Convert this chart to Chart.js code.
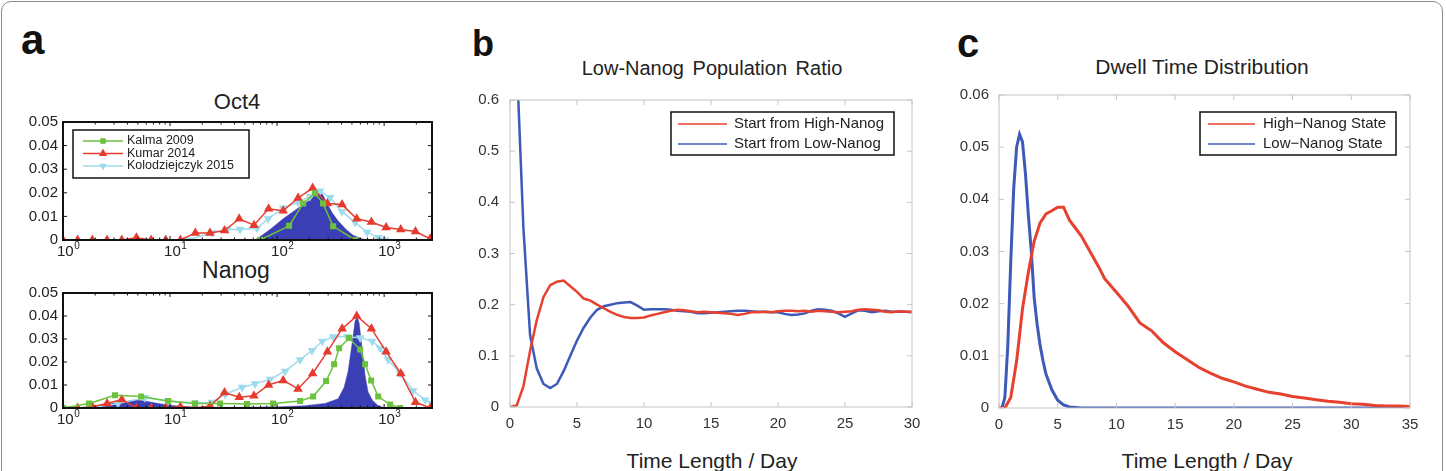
<!DOCTYPE html>
<html>
<head>
<meta charset="utf-8">
<script src="https://cdn.jsdelivr.net/npm/chart.js@4.4.1/dist/chart.umd.min.js"></script>
<style>
  body { margin: 0; background: #fff; width: 1446px; height: 471px; overflow: hidden; position: relative;
         font-family: "Liberation Sans", Arial, sans-serif; color: #222; }
  .frame { position: absolute; left: 1px; top: 1px; width: 1440px; height: 520px; border: 1.5px solid #8a8a8a; border-radius: 10px; }
  .letter { position: absolute; font-weight: bold; line-height: 1; color: #111; }
  .ttl { position: absolute; line-height: 1; white-space: nowrap; transform: translate(-50%, -50%); }
  canvas { position: absolute; }
</style>
</head>
<body>
<div class="frame"></div>
<div class="letter" style="left:21px;top:19px;font-size:42px">a</div>
<div class="letter" style="left:472px;top:26px;font-size:36px">b</div>
<div class="letter" style="left:957px;top:23px;font-size:40px">c</div>

<div class="ttl" style="left:237px;top:102px;font-size:22px">Oct4</div>
<div class="ttl" style="left:236px;top:270px;font-size:23px">Nanog</div>
<div class="ttl" style="left:712px;top:68px;font-size:20px;word-spacing:3px">Low-Nanog Population Ratio</div>
<div class="ttl" style="left:1202px;top:66px;font-size:21px">Dwell Time Distribution</div>
<div class="ttl" style="left:712px;top:460px;font-size:21px">Time Length / Day</div>
<div class="ttl" style="left:1207px;top:460px;font-size:21px">Time Length / Day</div>

<canvas id="oct4" width="460" height="152" style="left:0;top:108px"></canvas>
<canvas id="nanog" width="460" height="161" style="left:0;top:279px"></canvas>
<canvas id="ratio" width="470" height="370" style="left:465px;top:80px"></canvas>
<canvas id="dwell" width="480" height="370" style="left:950px;top:76px"></canvas>

<script>
// ---- panel a: expression distributions (log x) ----
const kumarBins = [1, 1.37, 1.88, 2.58, 3.54, 4.85, 6.66, 9.13, 12.5, 17.2, 23.6, 32.3, 44.3, 60.8, 83.3,
  114, 157, 215, 295, 405, 555, 761, 1043, 1431, 1963, 2692];
const oct4Kumar = [0, 0, 0, 0, 0, 0.001, 0, 0, 0, 0.003, 0.003, 0.004, 0.009, 0.0063, 0.0132, 0.0124,
  0.0178, 0.022, 0.0155, 0.015, 0.009, 0.0076, 0.0053, 0.0044, 0.0036, 0.0005];
const nanogKumar = [0, 0, 0.0005, 0.002, 0.0037, 0, 0, 0, 0.0005, 0, 0.0009, 0.0067, 0.0047, 0.0053,
  0.01, 0.012, 0.0083, 0.015, 0.0245, 0.0345, 0.04, 0.0345, 0.0245, 0.015, 0.0025, 0];

const oct4KalmaX = [69.3, 129.5, 175, 226, 269, 334, 536];
const oct4Kalma = [0, 0.006, 0.0155, 0.0198, 0.0155, 0.0058, 0];
const nanogKalmaX = [1, 1.75, 3.06, 5.36, 9.58, 17.1, 29.3, 52.4, 91.8, 164, 217, 287, 341, 380, 471,
  597, 664, 756, 880, 1138, 1413];
const nanogKalma = [0, 0.002, 0.0055, 0.005, 0.003, 0.002, 0.002, 0.0017, 0.002, 0.003, 0.005, 0.0117,
  0.019, 0.026, 0.0304, 0.0254, 0.019, 0.012, 0.005, 0.0015, 0];

const oct4KoloX = [14.4, 24.7, 34.1, 45.1, 65.0, 82.4, 114, 157, 203, 252, 313, 405, 536, 693, 880, 1021];
const oct4Kolo = [0, 0.003, 0.0045, 0.0045, 0.005, 0.009, 0.0135, 0.016, 0.0185, 0.0207, 0.018, 0.012,
  0.0075, 0.0033, 0.001, 0];
const nanogKoloX = [1, 1.79, 3.27, 5.84, 9.58, 17.1, 24.7, 32.7, 47.1, 62.3, 86.0, 119, 164, 212, 264,
  334, 451, 597, 773, 918, 1090, 1413, 1866, 2416, 2780];
const nanogKolo = [0, 0, 0.002, 0.0045, 0.003, 0.0022, 0.0025, 0.006, 0.009, 0.0105, 0.0125, 0.016,
  0.021, 0.025, 0.029, 0.031, 0.031, 0.0305, 0.029, 0.026, 0.021, 0.015, 0.0075, 0.0035, 0.002];

const oct4SimX = [62.3, 72.4, 86.0, 114, 157, 203, 231, 247, 269, 293, 327, 372, 441, 513, 622, 708];
const oct4Sim = [0, 0.002, 0.0045, 0.009, 0.0135, 0.017, 0.0195, 0.0205, 0.019, 0.0155, 0.0115, 0.008,
  0.0045, 0.002, 0.0005, 0];
const nanogSimX = [1.61, 1.99, 2.75, 3.80, 4.71, 5.84, 8.07, 11.1, 15.4, 23.7, 45.1, 107, 183, 281, 372,
  423, 461, 502, 536, 560, 584, 622, 664, 708, 773, 880, 1021];
const nanogSim = [0, 0.0008, 0.0018, 0.0028, 0.0035, 0.003, 0.0018, 0.001, 0.0005, 0.0003, 0.0003,
  0.0005, 0.001, 0.002, 0.004, 0.009, 0.016, 0.028, 0.038, 0.0395, 0.037, 0.026, 0.014, 0.007, 0.0035,
  0.001, 0];

const logTicks = [1, 10, 100, 1000];

// ---- panel b: low-Nanog population ratio ----
const tRatio = [0, 0.5, 1, 1.5, 2, 2.5, 3, 3.5, 4, 4.5, 5, 5.5, 6, 6.5, 7, 7.5, 8, 8.5, 9, 9.5, 10, 10.5,
  11, 11.5, 12, 12.5, 13, 13.5, 14, 14.5, 15, 15.5, 16, 16.5, 17, 17.5, 18, 18.5, 19, 19.5, 20, 20.5, 21,
  21.5, 22, 22.5, 23, 23.5, 24, 24.5, 25, 25.5, 26, 26.5, 27, 27.5, 28, 28.5, 29, 29.5, 30];
const fromHigh = [0, 0.003, 0.04, 0.11, 0.17, 0.215, 0.238, 0.245, 0.247, 0.236, 0.225, 0.212, 0.208,
  0.2, 0.193, 0.186, 0.18, 0.176, 0.174, 0.174, 0.175, 0.179, 0.182, 0.185, 0.188, 0.19, 0.189, 0.187,
  0.185, 0.186, 0.185, 0.184, 0.183, 0.182, 0.18, 0.182, 0.185, 0.185, 0.186, 0.185, 0.187, 0.188, 0.188,
  0.187, 0.188, 0.186, 0.188, 0.187, 0.186, 0.185, 0.186, 0.187, 0.19, 0.191, 0.19, 0.189, 0.186, 0.185,
  0.187, 0.186, 0.186];
const fromLow = [1.0, 0.68, 0.35, 0.14, 0.075, 0.045, 0.037, 0.045, 0.07, 0.1, 0.13, 0.155, 0.175, 0.19,
  0.197, 0.2, 0.203, 0.204, 0.205, 0.198, 0.19, 0.191, 0.191, 0.191, 0.19, 0.188, 0.187, 0.186, 0.183,
  0.183, 0.184, 0.185, 0.186, 0.187, 0.188, 0.188, 0.187, 0.186, 0.186, 0.185, 0.185, 0.182, 0.18, 0.181,
  0.183, 0.188, 0.191, 0.19, 0.188, 0.183, 0.176, 0.183, 0.189, 0.188, 0.185, 0.187, 0.188, 0.186, 0.186,
  0.186, 0.185];

// ---- panel c: dwell time distribution ----
const tHighState = [0, 0.5, 1, 1.5, 2, 2.5, 3, 3.5, 4, 4.5, 5, 5.5, 6, 6.5, 7, 7.5, 8, 8.5, 9, 9.5, 10,
  11, 12, 13, 14, 15, 16, 17, 18, 19, 20, 21, 22, 23, 24, 25, 26, 27, 28, 29, 30, 31, 32, 33, 34, 35];
const highState = [0, 0, 0.002, 0.009, 0.019, 0.026, 0.032, 0.0355, 0.0372, 0.0378, 0.0385, 0.0385,
  0.036, 0.0345, 0.033, 0.031, 0.029, 0.027, 0.0248, 0.0235, 0.0222, 0.0195, 0.0163, 0.0148, 0.0125,
  0.0108, 0.0093, 0.0078, 0.0067, 0.0057, 0.005, 0.0042, 0.0036, 0.003, 0.0027, 0.0022, 0.0019, 0.0016,
  0.0013, 0.0011, 0.0008, 0.0007, 0.0005, 0.0004, 0.0004, 0.0003];
const tLowState = [0, 0.25, 0.5, 0.75, 1, 1.25, 1.5, 1.75, 2, 2.25, 2.5, 2.75, 3, 3.25, 3.5, 3.75, 4, 4.5,
  5, 5.5, 6, 7, 10, 15, 20, 25, 30, 35];
const lowState = [0, 0, 0.002, 0.012, 0.028, 0.042, 0.05, 0.0525, 0.051, 0.045, 0.037, 0.03, 0.021,
  0.016, 0.012, 0.009, 0.0065, 0.0035, 0.0015, 0.0006, 0.0002, 0, 0, 0, 0, 0, 0, 0];

const pairs = (xs, ys) => xs.map((x, i) => ({ x: x, y: ys[i] }));
const FONT = '"Liberation Sans", Arial, sans-serif';

// MATLAB style box with inward ticks
const matlabAxes = {
  id: 'matlabAxes',
  afterDatasetsDraw(chart, args, o) {
    const { ctx, chartArea: a } = chart;
    const xs = chart.scales.x, ys = chart.scales.y;
    ctx.save();
    ctx.strokeStyle = o.color;
    ctx.lineWidth = o.tickWidth;
    ctx.beginPath();
    xs.ticks.forEach(t => {
      const p = xs.getPixelForValue(t.value);
      ctx.moveTo(p, a.bottom); ctx.lineTo(p, a.bottom - o.tickLen);
      ctx.moveTo(p, a.top); ctx.lineTo(p, a.top + o.tickLen);
    });
    ys.ticks.forEach(t => {
      const p = ys.getPixelForValue(t.value);
      ctx.moveTo(a.left, p); ctx.lineTo(a.left + o.tickLen, p);
      ctx.moveTo(a.right, p); ctx.lineTo(a.right - o.tickLen, p);
    });
    if (o.minor) {
      logTicks.forEach(d => {
        for (let m = 2; m <= 9; m++) {
          const v = d * m;
          if (v > xs.max) break;
          const p = xs.getPixelForValue(v);
          ctx.moveTo(p, a.bottom); ctx.lineTo(p, a.bottom - o.minorLen);
          ctx.moveTo(p, a.top); ctx.lineTo(p, a.top + o.minorLen);
        }
      });
    }
    ctx.stroke();
    ctx.lineWidth = o.boxWidth;
    ctx.strokeRect(a.left, a.top, a.width, a.height);
    ctx.restore();
  }
};

// legend drawn inside the axes, with a black box
const boxLegend = {
  id: 'boxLegend',
  afterDraw(chart, args, o) {
    if (!o.rows) return;
    const { ctx, chartArea: a } = chart;
    const bx = o.right != null ? a.right - o.right - o.w : a.left + o.left;
    const by = a.top + o.top;
    ctx.save();
    ctx.fillStyle = '#fff';
    ctx.fillRect(bx, by, o.w, o.h);
    ctx.strokeStyle = '#111';
    ctx.lineWidth = 1.5;
    ctx.strokeRect(bx, by, o.w, o.h);
    ctx.font = o.font;
    ctx.textBaseline = 'middle';
    ctx.textAlign = 'left';
    o.rows.forEach(row => {
      const ds = chart.data.datasets[row.ds];
      const y = by + row.y;
      ctx.strokeStyle = ds.borderColor;
      ctx.lineWidth = o.lineWidth || ds.borderWidth;
      ctx.beginPath(); ctx.moveTo(bx + o.x0, y); ctx.lineTo(bx + o.x1, y); ctx.stroke();
      if (ds.pointRadius) {
        ctx.fillStyle = ds.pointBackgroundColor;
        ctx.lineWidth = 1;
        Chart.helpers.drawPoint(ctx, { pointStyle: ds.pointStyle, radius: ds.pointRadius,
          rotation: ds.pointRotation || 0, borderWidth: 1 }, bx + (o.x0 + o.x1) / 2, y);
      }
      ctx.fillStyle = '#222';
      ctx.fillText(ds.label, bx + o.tx, y);
    });
    ctx.restore();
  }
};

// 10^n labels under the log axes
const logLabels = {
  id: 'logLabels',
  afterDraw(chart) {
    const { ctx, chartArea: a } = chart;
    const xs = chart.scales.x;
    ctx.save();
    ctx.fillStyle = '#222';
    ctx.textBaseline = 'middle';
    ctx.textAlign = 'left';
    logTicks.forEach(v => {
      const p = xs.getPixelForValue(v);
      ctx.font = '15px ' + FONT;
      const w = ctx.measureText('10').width;
      ctx.fillText('10', p - 6, a.bottom + 12);
      ctx.font = '10px ' + FONT;
      ctx.fillText(String(Math.round(Math.log10(v))), p - 6 + w + 0.5, a.bottom + 6);
    });
    ctx.restore();
  }
};

function distChart(id, xHeight, sets) {
  const [sim, kalma, kumar, kolo] = sets;
  return new Chart(document.getElementById(id), {
    type: 'line',
    data: {
      datasets: [
        { label: 'Simulation', data: sim, order: 10, fill: 'origin', backgroundColor: '#3b3fb5',
          borderColor: '#3b3fb5', borderWidth: 0.5, pointRadius: 0 },
        { label: 'Kalma 2009', data: kalma, borderColor: '#6cc23d', borderWidth: 1.5,
          pointStyle: 'rect', pointRadius: 3.2, pointBackgroundColor: '#6cc23d', pointBorderColor: '#6cc23d' },
        { label: 'Kumar 2014', data: kumar, borderColor: '#e63b2e', borderWidth: 1.5,
          pointStyle: 'triangle', pointRadius: 4, pointBackgroundColor: '#e63b2e', pointBorderColor: '#e63b2e' },
        { label: 'Kolodziejczyk 2015', data: kolo, borderColor: '#9edbec', borderWidth: 1.5,
          pointStyle: 'triangle', pointRotation: 180, pointRadius: 3.6,
          pointBackgroundColor: '#9edbec', pointBorderColor: '#9edbec' }
      ]
    },
    options: {
      responsive: false, animation: false, events: [],
      layout: { padding: { left: 0, top: 9, right: 28, bottom: 0 } },
      elements: { line: { tension: 0 } },
      plugins: {
        legend: { display: false }, tooltip: { enabled: false },
        matlabAxes: { color: '#111', tickWidth: 1, tickLen: 4, minor: true, minorLen: 2.5, boxWidth: 2 },
        boxLegend: id === 'oct4' ? {
          left: 10, top: 8, w: 176, h: 48, x0: 10, x1: 50, tx: 54, lineWidth: 1.5,
          font: '12.5px ' + FONT, rows: [{ ds: 1, y: 11 }, { ds: 2, y: 23.5 }, { ds: 3, y: 36 }]
        } : {}
      },
      scales: {
        x: {
          type: 'logarithmic', min: 1, max: 2800,
          afterBuildTicks: s => { s.ticks = logTicks.map(v => ({ value: v })); },
          afterFit: s => { s.height = xHeight; },
          grid: { display: false, drawTicks: false }, border: { display: false },
          ticks: { display: false }
        },
        y: {
          min: 0, max: 0.05,
          afterFit: s => { s.width = 63; },
          grid: { display: false, drawTicks: false }, border: { display: false },
          ticks: { stepSize: 0.01, padding: 5, color: '#222', font: { size: 15, family: FONT },
                   callback: v => v === 0 ? '0' : v.toFixed(2) }
        }
      }
    },
    plugins: [matlabAxes, boxLegend, logLabels]
  });
}

distChart('oct4', 20, [pairs(oct4SimX, oct4Sim), pairs(oct4KalmaX, oct4Kalma),
  pairs(kumarBins, oct4Kumar), pairs(oct4KoloX, oct4Kolo)]);
distChart('nanog', 32, [pairs(nanogSimX, nanogSim), pairs(nanogKalmaX, nanogKalma),
  pairs(kumarBins, nanogKumar), pairs(nanogKoloX, nanogKolo)]);

function timeChart(id, cfg) {
  return new Chart(document.getElementById(id), {
    type: 'line',
    data: { datasets: cfg.datasets },
    options: {
      responsive: false, animation: false, events: [],
      layout: { padding: cfg.padding },
      elements: { line: { tension: 0 }, point: { radius: 0 } },
      plugins: {
        legend: { display: false }, tooltip: { enabled: false },
        matlabAxes: { color: '#c4c4c4', tickWidth: 1, tickLen: 5, boxWidth: 1 },
        boxLegend: cfg.legend
      },
      scales: {
        x: {
          type: 'linear', min: 0, max: cfg.xMax,
          afterFit: s => { s.height = cfg.xHeight; },
          grid: { display: false, drawTicks: false }, border: { display: false },
          ticks: { stepSize: 5, padding: 8, autoSkip: false, maxRotation: 0, color: '#333',
                   font: { size: 15, family: FONT } }
        },
        y: {
          min: 0, max: cfg.yMax,
          afterFit: s => { s.width = cfg.yWidth; },
          grid: { display: false, drawTicks: false }, border: { display: false },
          ticks: { stepSize: cfg.yStep, padding: cfg.yPad, color: '#333', font: { size: 15, family: FONT },
                   callback: v => v === 0 ? '0' : v.toFixed(cfg.yDec) }
        }
      }
    },
    plugins: [matlabAxes, boxLegend]
  });
}

timeChart('ratio', {
  datasets: [
    { label: 'Start from High-Nanog', data: pairs(tRatio, fromHigh), borderColor: '#e8402f', borderWidth: 2.5 },
    { label: 'Start from Low-Nanog', data: pairs(tRatio, fromLow), borderColor: '#3d5ab8', borderWidth: 2.5 }
  ],
  padding: { left: 0, top: 9, right: 23, bottom: 0 },
  xMax: 30, xHeight: 43, yMax: 0.6, yStep: 0.1, yDec: 1, yWidth: 45, yPad: 11,
  legend: { right: 18, top: 12, w: 223, h: 43, x0: 7, x1: 56, tx: 63, lineWidth: 1.5,
            font: '15px ' + FONT, rows: [{ ds: 0, y: 12 }, { ds: 1, y: 32 }] }
});

timeChart('dwell', {
  datasets: [
    { label: 'High\u2212Nanog State', data: pairs(tHighState, highState), borderColor: '#e8402f', borderWidth: 3 },
    { label: 'Low\u2212Nanog State', data: pairs(tLowState, lowState), borderColor: '#3d5ab8', borderWidth: 3 }
  ],
  padding: { left: 0, top: 8, right: 20, bottom: 0 },
  xMax: 35, xHeight: 38, yMax: 0.06, yStep: 0.01, yDec: 2, yWidth: 49, yPad: 10,
  legend: { right: 14, top: 17, w: 196, h: 43, x0: 8, x1: 55, tx: 63, lineWidth: 1.5,
            font: '15px ' + FONT, rows: [{ ds: 0, y: 12 }, { ds: 1, y: 32 }] }
});
</script>
</body>
</html>
